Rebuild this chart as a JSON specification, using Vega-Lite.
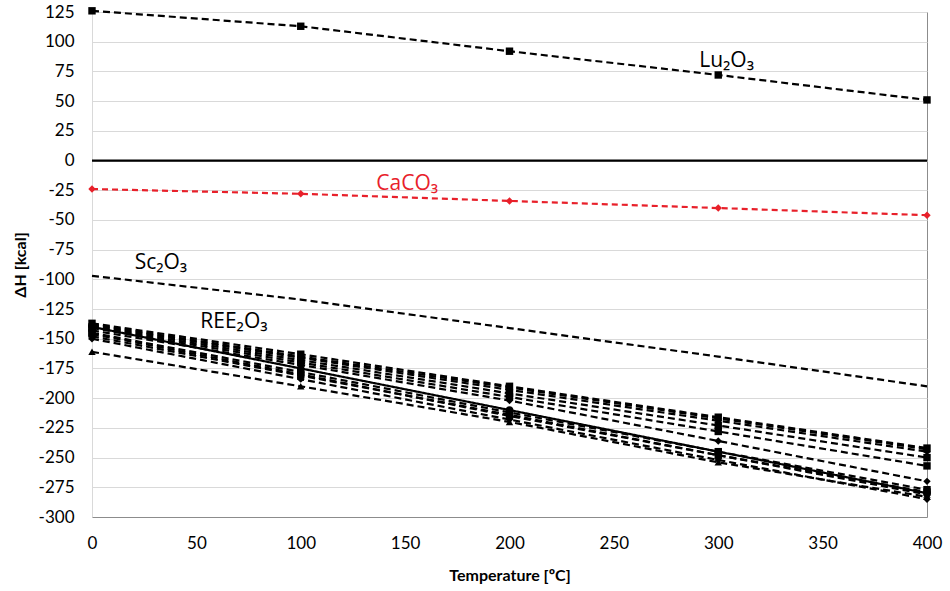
{
  "$schema": "https://vega.github.io/schema/vega-lite/v6.json",
  "width": 835,
  "height": 505,
  "autosize": "none",
  "padding": {"left": 92, "top": 12, "right": 23, "bottom": 74},
  "background": "white",
  "config": {
    "font": "Lato",
    "view": {"stroke": "#8c8c8c", "strokeWidth": 1}
  },
  "datasets": {
    "series": [
      {"series": "zero", "T": 0, "H": 0}, {"series": "zero", "T": 400, "H": 0},
      {"series": "Lu2O3", "T": 0, "H": 126}, {"series": "Lu2O3", "T": 100, "H": 113}, {"series": "Lu2O3", "T": 200, "H": 92}, {"series": "Lu2O3", "T": 300, "H": 72}, {"series": "Lu2O3", "T": 400, "H": 51},
      {"series": "CaCO3", "T": 0, "H": -24}, {"series": "CaCO3", "T": 100, "H": -28}, {"series": "CaCO3", "T": 200, "H": -34}, {"series": "CaCO3", "T": 300, "H": -40}, {"series": "CaCO3", "T": 400, "H": -46},
      {"series": "Sc2O3", "T": 0, "H": -97}, {"series": "Sc2O3", "T": 100, "H": -117}, {"series": "Sc2O3", "T": 200, "H": -141}, {"series": "Sc2O3", "T": 300, "H": -165}, {"series": "Sc2O3", "T": 400, "H": -190},
      {"series": "REE1", "T": 0, "H": -137}, {"series": "REE1", "T": 100, "H": -163}, {"series": "REE1", "T": 200, "H": -190}, {"series": "REE1", "T": 300, "H": -216}, {"series": "REE1", "T": 400, "H": -242},
      {"series": "REE2", "T": 0, "H": -138}, {"series": "REE2", "T": 100, "H": -165}, {"series": "REE2", "T": 200, "H": -191}, {"series": "REE2", "T": 300, "H": -217}, {"series": "REE2", "T": 400, "H": -243},
      {"series": "REE3", "T": 0, "H": -139}, {"series": "REE3", "T": 100, "H": -166}, {"series": "REE3", "T": 200, "H": -193}, {"series": "REE3", "T": 300, "H": -219}, {"series": "REE3", "T": 400, "H": -245},
      {"series": "REE4", "T": 0, "H": -140}, {"series": "REE4", "T": 100, "H": -168}, {"series": "REE4", "T": 200, "H": -196}, {"series": "REE4", "T": 300, "H": -223}, {"series": "REE4", "T": 400, "H": -250},
      {"series": "REE5", "T": 0, "H": -141}, {"series": "REE5", "T": 100, "H": -170}, {"series": "REE5", "T": 200, "H": -199}, {"series": "REE5", "T": 300, "H": -228}, {"series": "REE5", "T": 400, "H": -257},
      {"series": "REE6", "T": 0, "H": -143}, {"series": "REE6", "T": 100, "H": -172}, {"series": "REE6", "T": 200, "H": -202}, {"series": "REE6", "T": 300, "H": -236}, {"series": "REE6", "T": 400, "H": -270},
      {"series": "REE7", "T": 0, "H": -140}, {"series": "REE7", "T": 100, "H": -175}, {"series": "REE7", "T": 200, "H": -210}, {"series": "REE7", "T": 300, "H": -245}, {"series": "REE7", "T": 400, "H": -280},
      {"series": "REE8", "T": 0, "H": -145}, {"series": "REE8", "T": 100, "H": -178}, {"series": "REE8", "T": 200, "H": -212}, {"series": "REE8", "T": 300, "H": -245}, {"series": "REE8", "T": 400, "H": -277},
      {"series": "REE9", "T": 0, "H": -148}, {"series": "REE9", "T": 100, "H": -181}, {"series": "REE9", "T": 200, "H": -214}, {"series": "REE9", "T": 300, "H": -248}, {"series": "REE9", "T": 400, "H": -281},
      {"series": "REE10", "T": 0, "H": -150}, {"series": "REE10", "T": 100, "H": -184}, {"series": "REE10", "T": 200, "H": -218}, {"series": "REE10", "T": 300, "H": -252}, {"series": "REE10", "T": 400, "H": -285},
      {"series": "REE11", "T": 0, "H": -161}, {"series": "REE11", "T": 100, "H": -190}, {"series": "REE11", "T": 200, "H": -220}, {"series": "REE11", "T": 300, "H": -254}, {"series": "REE11", "T": 400, "H": -283},
      {"series": "REE12", "T": 0, "H": -146}, {"series": "REE12", "T": 100, "H": -180}, {"series": "REE12", "T": 200, "H": -215}, {"series": "REE12", "T": 300, "H": -248}, {"series": "REE12", "T": 400, "H": -279}
    ],
    "labels": [
      {"series": "Lu2O3", "text": "Lu₂O₃", "T": 304, "H": 84},
      {"series": "CaCO3", "text": "CaCO₃", "T": 151, "H": -20},
      {"series": "Sc2O3", "text": "Sc₂O₃", "T": 33, "H": -86},
      {"series": "REE1", "text": "REE₂O₃", "T": 68, "H": -136}
    ]
  },
  "encoding": {
    "x": {
      "field": "T", "type": "quantitative",
      "scale": {"domain": [0, 400], "nice": false},
      "axis": {
        "title": "Temperature [ºC]", "values": [0, 50, 100, 150, 200, 250, 300, 350, 400],
        "grid": false, "domain": true, "domainColor": "#8c8c8c", "ticks": false, "labelFlush": false, "labelOverlap": false,
        "labelFontSize": 17, "labelColor": "#000", "labelPadding": 18,
        "titleFontSize": 16, "titleFontWeight": "bold", "titleColor": "#000", "titlePadding": 16
      }
    },
    "y": {
      "field": "H", "type": "quantitative",
      "scale": {"domain": [-300, 125], "nice": false},
      "axis": {
        "title": "ΔH [kcal]",
        "values": [125, 100, 75, 50, 25, 0, -25, -50, -75, -100, -125, -150, -175, -200, -225, -250, -275, -300],
        "labelExpr": "replace(datum.label, '−', '-')",
        "grid": true, "gridColor": "#d9d9d9", "domain": true, "domainColor": "#d9d9d9", "ticks": false, "labelFlush": false, "labelOverlap": false,
        "labelFontSize": 17, "labelColor": "#000", "labelPadding": 18,
        "titleFontSize": 16, "titleFontWeight": "bold", "titleColor": "#000", "titlePadding": 10
      }
    },
    "color": {"field": "series", "type": "nominal", "legend": null,
      "scale": {
        "domain": ["zero", "Lu2O3", "CaCO3", "Sc2O3", "REE1", "REE2", "REE3", "REE4", "REE5", "REE6", "REE7", "REE8", "REE9", "REE10", "REE11", "REE12"],
        "range": ["#000000", "#000000", "#e8202a", "#000000", "#000000", "#000000", "#000000", "#000000", "#000000", "#000000", "#000000", "#000000", "#000000", "#000000", "#000000", "#000000"]
      }
    }
  },
  "layer": [
    {
      "data": {"name": "series"},
      "mark": {"type": "line", "strokeWidth": 2.2},
      "encoding": {
        "detail": {"field": "series"},
        "strokeDash": {"field": "series", "type": "nominal", "legend": null,
          "scale": {
            "domain": ["zero", "Lu2O3", "CaCO3", "Sc2O3", "REE1", "REE2", "REE3", "REE4", "REE5", "REE6", "REE7", "REE8", "REE9", "REE10", "REE11", "REE12"],
            "range": [[1,0],[7,4],[6,4],[7,4],[7,4],[7,4],[7,4],[7,4],[7,4],[7,4],[1,0],[7,4],[7,4],[7,4],[7,4],[7,4]]
          }
        }
      }
    },
    {
      "data": {"name": "series"},
      "transform": [{"filter": "datum.series !== 'zero'"}],
      "mark": {"type": "point", "filled": true, "opacity": 1},
      "encoding": {
        "size": {"value": 55},
        "shape": {"field": "series", "type": "nominal", "legend": null,
          "scale": {
            "domain": ["Lu2O3", "CaCO3", "Sc2O3", "REE1", "REE2", "REE3", "REE4", "REE5", "REE6", "REE7", "REE8", "REE9", "REE10", "REE11", "REE12"],
            "range": ["square", "diamond", "stroke", "square", "triangle-up", "diamond", "square", "square", "diamond", "circle", "square", "triangle-up", "diamond", "triangle-up", "square"]
          }
        }
      }
    },
    {
      "data": {"name": "labels"},
      "mark": {"type": "text", "fontSize": 21, "align": "center", "baseline": "middle", "font": "Open Sans"},
      "encoding": {
        "text": {"field": "text"}
      }
    }
  ]
}
